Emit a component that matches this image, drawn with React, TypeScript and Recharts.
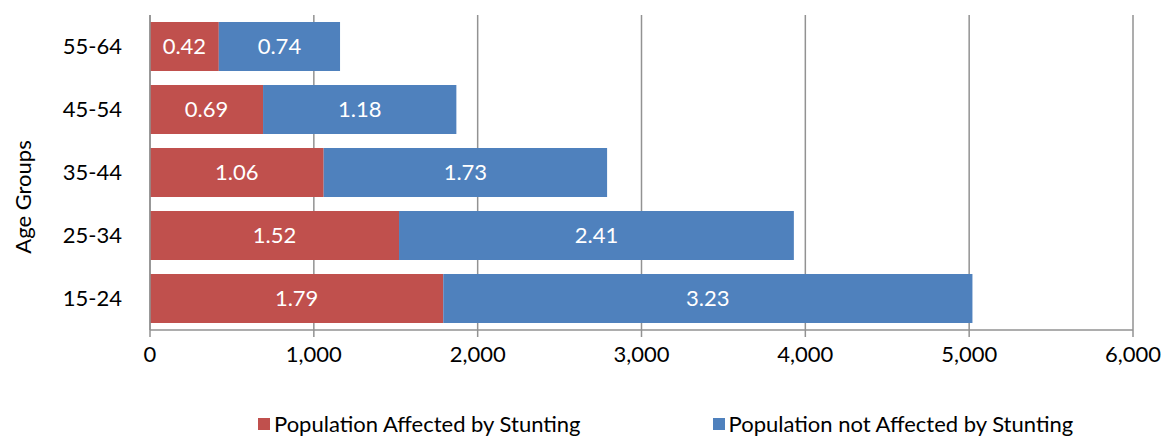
import { BarChart, Bar, XAxis, YAxis, CartesianGrid, Legend, LabelList } from "recharts"

// population by age group, in thousands (labels show millions)
const ageGroups = ["55-64", "45-54", "35-44", "25-34", "15-24"]
const affected = [420, 690, 1060, 1520, 1790]
const notAffected = [740, 1180, 1730, 2410, 3230]
const xTicks = [0, 1000, 2000, 3000, 4000, 5000, 6000]

const data = ageGroups.map((group, i) => ({
  group,
  affected: affected[i],
  notAffected: notAffected[i],
}))

const FONT = "Lato, 'DejaVu Sans', sans-serif"
const FS = 22
const RED = "#C0504D"
const BLUE = "#4F81BD"
const GRID = "#929292"

const fmtMillions = (v: any) => (Number(v) / 1000).toFixed(2)

function LegendBox() {
  const item = (color: string, text: string) => (
    <div style={{ display: "flex", alignItems: "center" }}>
      <span style={{ width: 12, height: 12, background: color, marginRight: 4, display: "inline-block" }} />
      <span>{text}</span>
    </div>
  )
  return (
    <div
      style={{
        display: "flex",
        paddingLeft: 258,
        gap: 132,
        fontFamily: FONT,
        fontSize: FS,
        color: "#000",
        lineHeight: "24px",
      }}
    >
      {item(RED, "Population Affected by Stunting")}
      {item(BLUE, "Population not Affected by Stunting")}
    </div>
  )
}

export default function App() {
  return (
    <div style={{ position: "absolute", left: 0, top: 0, background: "#fff" }}>
      <BarChart
        width={1162}
        height={436}
        data={data}
        layout="vertical"
        margin={{ top: 15, right: 29, left: 0, bottom: 0 }}
        barCategoryGap="11%"
      >
        <CartesianGrid horizontal={false} vertical={true} stroke={GRID} strokeWidth={1.5} />
        <XAxis
          type="number"
          domain={[0, 6000]}
          ticks={xTicks}
          interval={0}
          tickFormatter={(v) => Number(v).toLocaleString("en-US")}
          axisLine={{ stroke: GRID, strokeWidth: 1.5 }}
          tickLine={{ stroke: GRID, strokeWidth: 1.5 }}
          tickSize={7}
          tickMargin={9}
          height={82}
          tick={{ fill: "#000", fontSize: FS, fontFamily: FONT }}
        />
        <YAxis
          type="category"
          dataKey="group"
          width={150}
          axisLine={{ stroke: GRID, strokeWidth: 1.5 }}
          tickLine={false}
          tickMargin={22}
          tick={{ fill: "#000", fontSize: FS, fontFamily: FONT }}
          label={{
            content: () => (
              <text
                x={22}
                y={197}
                transform="rotate(-90, 22, 197)"
                textAnchor="middle"
                dominantBaseline="central"
                fontSize={FS}
                fontFamily={FONT}
                fill="#000"
              >
                Age Groups
              </text>
            ),
          }}
        />
        <Legend verticalAlign="bottom" height={24} content={() => <LegendBox />} />
        <Bar dataKey="affected" stackId="a" fill={RED} isAnimationActive={false}>
          <LabelList dataKey="affected" position="center" formatter={fmtMillions} fill="#fff" fontSize={FS} fontFamily={FONT} />
        </Bar>
        <Bar dataKey="notAffected" stackId="a" fill={BLUE} isAnimationActive={false}>
          <LabelList dataKey="notAffected" position="center" formatter={fmtMillions} fill="#fff" fontSize={FS} fontFamily={FONT} />
        </Bar>
      </BarChart>
    </div>
  )
}
